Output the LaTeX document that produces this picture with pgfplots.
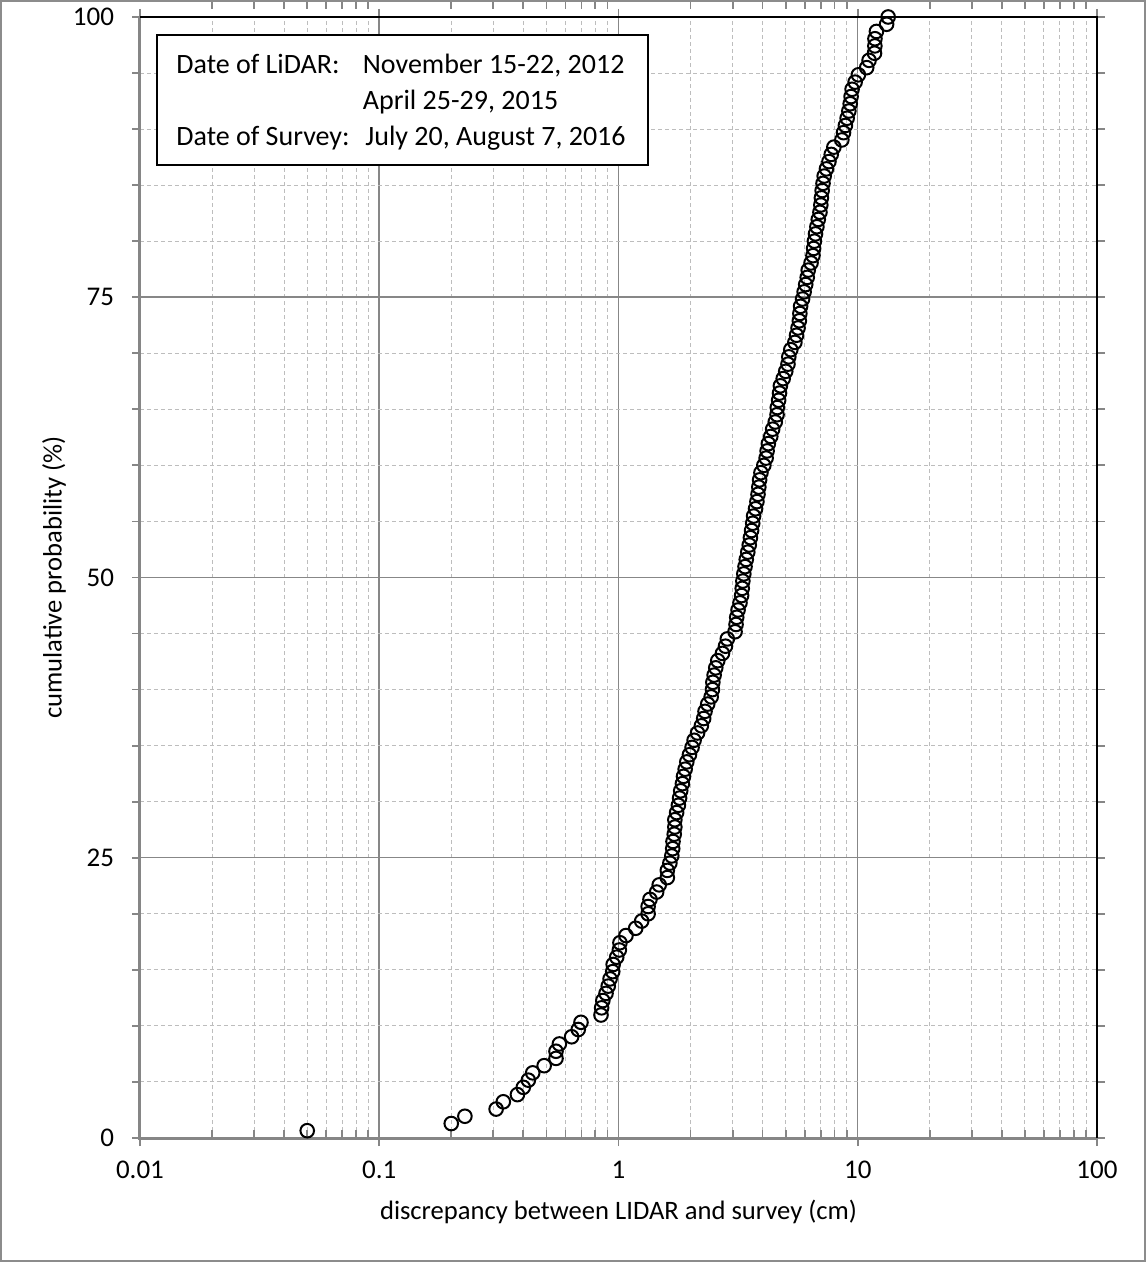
\documentclass[border=0pt]{standalone}
\usepackage{pgfplots}
\pgfplotsset{compat=1.18}
\usepackage{fontspec}
\setmainfont{Carlito}
\definecolor{majgrid}{HTML}{878787}
\definecolor{mingrid}{HTML}{BDBDBD}
\definecolor{axgray}{HTML}{868686}
\definecolor{framegray}{HTML}{8C8C8C}
\begin{document}
\begin{tikzpicture}
\begin{axis}[
  xmode=log, log basis x=10,
  scale only axis, width=478.5pt, height=560.5pt,
  xmin=0.01, xmax=100, ymin=0, ymax=100,
  xtick={0.01,0.1,1,10,100},
  xticklabels={0.01,0.1,1,10,100},
  minor xtick={0.02,0.03,0.04,0.05,0.06,0.07,0.08,0.09,0.2,0.3,0.4,0.5,0.6,0.7,0.8,0.9,2,3,4,5,6,7,8,9,20,30,40,50,60,70,80,90},
  ytick={0,25,50,75,100},
  minor ytick={5,10,15,20,30,35,40,45,55,60,65,70,80,85,90,95},
  grid=both,
  major grid style={majgrid, line width=0.75pt},
  minor grid style={mingrid, line width=0.5pt, dash pattern=on 2pt off 1.5pt},
  axis line style={draw=none},
  tick align=outside,
  major tick length=4pt,
  minor tick length=4pt,
  tick style={axgray, line width=0.9pt},
  every minor x tick/.append style={yshift=4pt},
  /pgf/number format/assume math mode=true,
  tick label style={font=\fontsize{13.5}{16}\selectfont},
  xticklabel style={yshift=-4pt},
  yticklabel style={xshift=-5.5pt},
  label style={font=\fontsize{13.3}{16}\selectfont},
  xlabel={discrepancy between LIDAR and survey (cm)},
  ylabel={cumulative probability (\%)},
  xlabel style={at={(axis description cs:0.5,-0.0723)}, anchor=base},
  ylabel style={at={(axis description cs:-0.0820,0.5)}, anchor=base},
  clip=false,
]
\addplot[only marks, mark=o, mark size=3.4pt, black, mark options={line width=1pt}] coordinates {
(0.050,0.65) (0.200,1.29) (0.228,1.94) (0.308,2.58) (0.330,3.23) (0.378,3.87)
(0.400,4.52) (0.420,5.16) (0.438,5.81) (0.489,6.45) (0.548,7.10) (0.548,7.74)
(0.566,8.39) (0.637,9.03) (0.679,9.68) (0.697,10.32) (0.845,10.97) (0.850,11.61)
(0.860,12.26) (0.887,12.90) (0.906,13.55) (0.922,14.19) (0.946,14.84) (0.950,15.48)
(0.983,16.13) (1.008,16.77) (1.014,17.42) (1.075,18.06) (1.18,18.71) (1.25,19.35)
(1.33,20.00) (1.33,20.65) (1.354,21.29) (1.444,21.94) (1.48,22.58) (1.60,23.23)
(1.60,23.87) (1.64,24.52) (1.67,25.16) (1.685,25.81) (1.69,26.45) (1.71,27.10)
(1.72,27.74) (1.72,28.39) (1.75,29.03) (1.78,29.68) (1.80,30.32) (1.82,30.97)
(1.85,31.61) (1.87,32.26) (1.90,32.90) (1.93,33.55) (1.98,34.19) (2.03,34.84)
(2.07,35.48) (2.14,36.13) (2.22,36.77) (2.27,37.42) (2.30,38.06) (2.36,38.71)
(2.44,39.35) (2.47,40.00) (2.48,40.65) (2.51,41.29) (2.55,41.94) (2.60,42.58)
(2.72,43.23) (2.80,43.87) (2.85,44.52) (3.07,45.16) (3.10,45.81) (3.12,46.45)
(3.16,47.10) (3.22,47.74) (3.27,48.39) (3.29,49.03) (3.31,49.68) (3.34,50.32)
(3.38,50.97) (3.42,51.61) (3.47,52.26) (3.52,52.90) (3.56,53.55) (3.60,54.19)
(3.64,54.84) (3.67,55.48) (3.74,56.13) (3.79,56.77) (3.83,57.42) (3.86,58.06)
(3.89,58.71) (3.94,59.35) (4.05,60.00) (4.14,60.65) (4.18,61.29) (4.23,61.94)
(4.33,62.58) (4.41,63.23) (4.52,63.87) (4.60,64.52) (4.61,65.16) (4.67,65.81)
(4.71,66.45) (4.75,67.10) (4.88,67.74) (5.00,68.39) (5.11,69.03) (5.15,69.68)
(5.25,70.32) (5.46,70.97) (5.55,71.61) (5.63,72.26) (5.70,72.90) (5.73,73.55)
(5.77,74.19) (5.88,74.84) (5.97,75.48) (6.06,76.13) (6.15,76.77) (6.21,77.42)
(6.38,78.06) (6.50,78.71) (6.54,79.35) (6.59,80.00) (6.66,80.65) (6.75,81.29)
(6.84,81.94) (6.95,82.58) (7.01,83.23) (7.05,83.87) (7.10,84.52) (7.16,85.16)
(7.24,85.81) (7.40,86.45) (7.58,87.10) (7.75,87.74) (7.95,88.39) (8.58,89.03)
(8.72,89.68) (8.88,90.32) (9.03,90.97) (9.18,91.61) (9.30,92.26) (9.38,92.90)
(9.47,93.55) (9.75,94.19) (10.06,94.84) (10.9,95.48) (11.15,96.13) (11.75,96.77)
(11.79,97.42) (11.80,98.06) (11.97,98.71) (13.2,99.35) (13.4,100.00)
};
\draw[axgray, line width=1.5pt] (rel axis cs:0,1) -- (rel axis cs:0,0) -- (rel axis cs:1,0);
\draw[black, line width=1pt] (rel axis cs:0,1) -- (rel axis cs:1,1) -- (rel axis cs:1,0);
\draw[black, line width=1pt, fill=white] (rel axis cs:0.01745,0.8677) rectangle (rel axis cs:0.5311,0.9837);
\node[anchor=base west, inner sep=0, font=\fontsize{14}{16}\selectfont] at (rel axis cs:0.0376,0.9494) {Date of LiDAR:};
\node[anchor=base west, inner sep=0, font=\fontsize{14}{16}\selectfont] at (rel axis cs:0.2325,0.9494) {November 15-22, 2012};
\node[anchor=base west, inner sep=0, font=\fontsize{14}{16}\selectfont] at (rel axis cs:0.2325,0.9177) {April 25-29, 2015};
\node[anchor=base west, inner sep=0, font=\fontsize{14}{16}\selectfont] at (rel axis cs:0.0376,0.8856) {Date of Survey:};
\node[anchor=base west, inner sep=0, font=\fontsize{14}{16}\selectfont] at (rel axis cs:0.2351,0.8856) {July 20, August 7, 2016};
\end{axis}
\draw[framegray, line width=1pt] ([shift={(-69.5pt,-61.5pt)}]current axis.south west) rectangle ([shift={(24pt,8pt)}]current axis.north east);
\end{tikzpicture}
\end{document}
